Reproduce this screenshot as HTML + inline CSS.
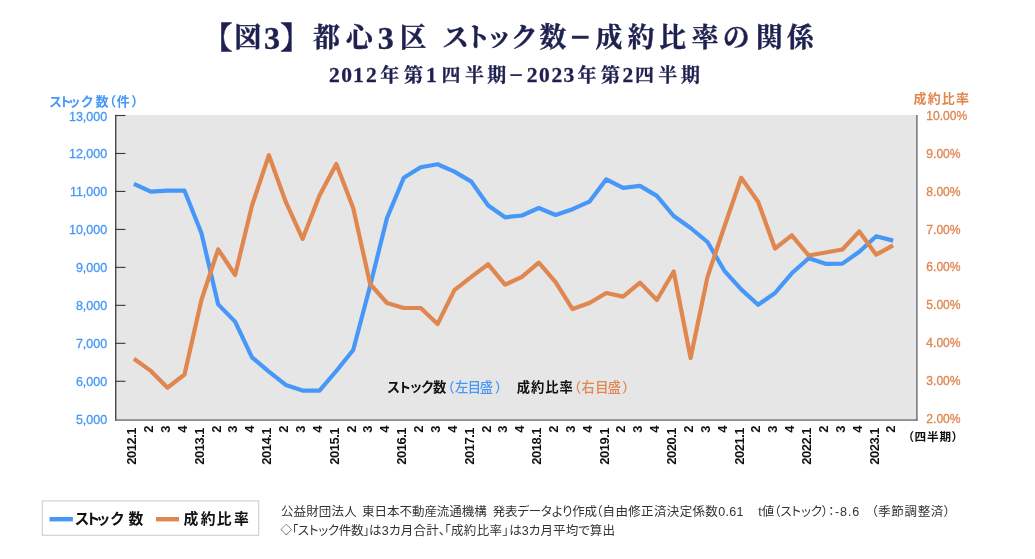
<!DOCTYPE html>
<html lang="ja"><head><meta charset="utf-8"><title>図3 都心3区 ストック数−成約比率の関係</title>
<style>
html,body{margin:0;padding:0;background:#fff;}
body{width:1035px;height:559px;overflow:hidden;}
svg{display:block;}
.serif{font-family:"Liberation Serif","Noto Serif CJK SC",serif;font-weight:bold;fill:#1e2150;}
.sans{font-family:"Liberation Sans","Noto Sans CJK JP",sans-serif;}
.gb{font-family:"Liberation Sans","Noto Sans CJK JP",sans-serif;font-weight:bold;}
.palt{font-feature-settings:"palt";}
.note{font-feature-settings:"palt";font-family:"Liberation Sans","Noto Sans CJK JP",sans-serif;font-weight:400;fill:#333;font-size:12.5px;}
</style></head><body>
<svg width="1035" height="559" viewBox="0 0 1035 559">
<rect width="1035" height="559" fill="#fff"/>
<text class="serif" font-size="26.8" stroke="#1e2150" stroke-width="0.4" x="202.6 234.4 264.1 280.3 294.3 313.3 346.0 377.7 399.6 413.6 442.3 464.3 485.7 511.0 539.5 570.3 595.5 627.8 659.2 691.8 722.8 755.9 787.0" y="47.6 47.3 48.6 47.6 47.3 47.3 47.3 48.6 47.3 47.3 47.3 47.3 47.3 47.3 47.3 49.2 47.3 47.3 47.3 47.3 47.3 47.3 47.3"><tspan font-size="30">【</tspan>図<tspan font-size="32">3</tspan><tspan font-size="30">】</tspan> 都心<tspan font-size="32">3</tspan>区 ストック数<tspan font-size="35">−</tspan>成約比率の関係</text>
<text class="serif" font-size="19" stroke="#1e2150" stroke-width="0.3" x="329.1 341.2 353.0 365.9 380.2 404.0 426.0 441.4 464.9 487.2 509.5 526.8 538.9 551.5 563.6 577.5 601.1 622.5 635.0 658.2 681.0" y="82.1 82.1 82.1 82.1 81.8 81.8 82.1 81.8 81.8 81.8 83.3 82.1 82.1 82.1 82.1 81.8 81.8 82.1 81.8 81.8 81.8"><tspan font-size="21.5">2012</tspan>年第<tspan font-size="21.5">1</tspan>四半期<tspan font-size="24">−</tspan><tspan font-size="21.5">2023</tspan>年第<tspan font-size="21.5">2</tspan>四半期</text>
<rect x="116" y="115" width="801" height="304.5" fill="#e6e6e6"/>
<rect x="115" y="115" width="1.4" height="305.7" fill="#484848"/>
<rect x="916.3" y="115" width="1.25" height="305.7" fill="#5c5c5c"/>
<rect x="115" y="419.4" width="802.5" height="1.3" fill="#606060"/>
<rect x="115" y="114.95" width="10.5" height="1.1" fill="#3a3a3a"/>
<text class="sans" x="107.2" y="120.50" font-size="12.5" text-anchor="end" fill="#4697f8" stroke="#4697f8" stroke-width="0.3">13,000</text>
<text class="sans" x="926.3" y="120.00" font-size="12.1" fill="#e0864f" stroke="#e0864f" stroke-width="0.3">10.00%</text>
<rect x="115" y="152.92" width="10.5" height="1.1" fill="#3a3a3a"/>
<text class="sans" x="107.2" y="158.47" font-size="12.5" text-anchor="end" fill="#4697f8" stroke="#4697f8" stroke-width="0.3">12,000</text>
<text class="sans" x="926.3" y="157.86" font-size="12.1" fill="#e0864f" stroke="#e0864f" stroke-width="0.3">9.00%</text>
<rect x="115" y="190.89" width="10.5" height="1.1" fill="#3a3a3a"/>
<text class="sans" x="107.2" y="196.44" font-size="12.5" text-anchor="end" fill="#4697f8" stroke="#4697f8" stroke-width="0.3">11,000</text>
<text class="sans" x="926.3" y="195.72" font-size="12.1" fill="#e0864f" stroke="#e0864f" stroke-width="0.3">8.00%</text>
<rect x="115" y="228.86" width="10.5" height="1.1" fill="#3a3a3a"/>
<text class="sans" x="107.2" y="234.41" font-size="12.5" text-anchor="end" fill="#4697f8" stroke="#4697f8" stroke-width="0.3">10,000</text>
<text class="sans" x="926.3" y="233.58" font-size="12.1" fill="#e0864f" stroke="#e0864f" stroke-width="0.3">7.00%</text>
<rect x="115" y="266.83" width="10.5" height="1.1" fill="#3a3a3a"/>
<text class="sans" x="107.2" y="272.38" font-size="12.5" text-anchor="end" fill="#4697f8" stroke="#4697f8" stroke-width="0.3">9,000</text>
<text class="sans" x="926.3" y="271.44" font-size="12.1" fill="#e0864f" stroke="#e0864f" stroke-width="0.3">6.00%</text>
<rect x="115" y="304.80" width="10.5" height="1.1" fill="#3a3a3a"/>
<text class="sans" x="107.2" y="310.35" font-size="12.5" text-anchor="end" fill="#4697f8" stroke="#4697f8" stroke-width="0.3">8,000</text>
<text class="sans" x="926.3" y="309.30" font-size="12.1" fill="#e0864f" stroke="#e0864f" stroke-width="0.3">5.00%</text>
<rect x="115" y="342.77" width="10.5" height="1.1" fill="#3a3a3a"/>
<text class="sans" x="107.2" y="348.32" font-size="12.5" text-anchor="end" fill="#4697f8" stroke="#4697f8" stroke-width="0.3">7,000</text>
<text class="sans" x="926.3" y="347.16" font-size="12.1" fill="#e0864f" stroke="#e0864f" stroke-width="0.3">4.00%</text>
<rect x="115" y="380.74" width="10.5" height="1.1" fill="#3a3a3a"/>
<text class="sans" x="107.2" y="386.29" font-size="12.5" text-anchor="end" fill="#4697f8" stroke="#4697f8" stroke-width="0.3">6,000</text>
<text class="sans" x="926.3" y="385.02" font-size="12.1" fill="#e0864f" stroke="#e0864f" stroke-width="0.3">3.00%</text>
<text class="sans" x="107.2" y="424.26" font-size="12.5" text-anchor="end" fill="#4697f8" stroke="#4697f8" stroke-width="0.3">5,000</text>
<text class="sans" x="926.3" y="422.88" font-size="12.1" fill="#e0864f" stroke="#e0864f" stroke-width="0.3">2.00%</text>
<text class="gb palt" x="49.6" dx="0 -1.5 -2.3 1.1 2.7 0.7 1.1 2.1" y="105.8" font-size="13" fill="#4697f8">ストック数（件）</text>
<text class="gb" x="913.6" y="103.2" font-size="13" letter-spacing="1.1" fill="#e0864f">成約比率</text>
<polyline fill="none" stroke="#4697f8" stroke-width="4.2" stroke-linejoin="round" points="133.9,183.9 150.8,191.7 167.6,190.7 184.5,190.7 201.4,233.0 218.2,304.4 235.1,321.6 252.0,357.3 268.9,371.6 285.7,384.9 302.6,390.6 319.5,390.6 336.3,371.0 353.2,350.0 370.1,286.0 387.0,218.0 403.8,177.8 420.7,167.3 437.6,164.3 454.4,171.6 471.3,181.6 488.2,205.5 505.0,217.3 521.9,215.5 538.8,208.0 555.6,215.0 572.5,209.2 589.4,201.7 606.3,179.3 623.1,187.9 640.0,185.9 656.9,195.9 673.7,216.0 690.6,228.0 707.5,242.0 724.4,270.8 741.2,289.4 758.1,304.8 775.0,293.0 791.8,273.3 808.7,258.3 825.6,263.8 842.4,263.6 859.3,251.8 876.2,236.2 893.1,240.6"/>
<polyline fill="none" stroke="#e0864f" stroke-width="4.2" stroke-linejoin="round" points="133.9,358.8 150.8,370.9 167.6,387.7 184.5,374.5 201.4,300.0 218.2,249.3 235.1,275.0 252.0,205.5 268.9,155.2 285.7,201.7 302.6,238.9 319.5,195.4 336.3,164.0 353.2,208.0 370.1,284.0 387.0,303.0 403.8,308.0 420.7,308.0 437.6,324.0 454.4,290.1 471.3,276.9 488.2,264.3 505.0,284.7 521.9,276.9 538.8,262.6 555.6,282.2 572.5,309.1 589.4,303.0 606.3,293.0 623.1,296.6 640.0,282.6 656.9,300.0 673.7,271.5 690.6,358.0 707.5,276.9 724.4,226.5 741.2,177.8 758.1,201.7 775.0,248.5 791.8,235.3 808.7,255.5 825.6,252.5 842.4,249.5 859.3,231.4 876.2,254.7 893.1,245.4"/>
<text class="palt gb" x="387.3" y="392" font-size="13.3" letter-spacing="-0.3" fill="#111">ストック数</text>
<text class="palt sans" x="445.6" dx="1.9 0 -1.4 -2.0 1.5" y="392" font-size="13.3" letter-spacing="0.8" font-weight="500" fill="#4697f8">（左目盛）</text>
<text class="palt gb" x="516.8" y="392" font-size="13.3" letter-spacing="0.9" fill="#111">成約比率</text>
<text class="palt sans" x="572.4" dx="1.4 -0.2 -0.7 -2.1 0.6" y="392" font-size="13.3" letter-spacing="1.2" font-weight="500" fill="#e0864f">（右目盛）</text>
<text class="gb" font-size="13" fill="#111" letter-spacing="-0.5" text-anchor="end" transform="translate(136.2,427.9) rotate(-90)">2012.1</text>
<text class="gb" font-size="13" fill="#111" text-anchor="end" transform="translate(153.1,425.6) rotate(-90)">2</text>
<text class="gb" font-size="13" fill="#111" text-anchor="end" transform="translate(169.9,425.6) rotate(-90)">3</text>
<text class="gb" font-size="13" fill="#111" text-anchor="end" transform="translate(186.8,425.6) rotate(-90)">4</text>
<text class="gb" font-size="13" fill="#111" letter-spacing="-0.5" text-anchor="end" transform="translate(203.7,427.9) rotate(-90)">2013.1</text>
<text class="gb" font-size="13" fill="#111" text-anchor="end" transform="translate(220.6,425.6) rotate(-90)">2</text>
<text class="gb" font-size="13" fill="#111" text-anchor="end" transform="translate(237.4,425.6) rotate(-90)">3</text>
<text class="gb" font-size="13" fill="#111" text-anchor="end" transform="translate(254.3,425.6) rotate(-90)">4</text>
<text class="gb" font-size="13" fill="#111" letter-spacing="-0.5" text-anchor="end" transform="translate(271.2,427.9) rotate(-90)">2014.1</text>
<text class="gb" font-size="13" fill="#111" text-anchor="end" transform="translate(288.0,425.6) rotate(-90)">2</text>
<text class="gb" font-size="13" fill="#111" text-anchor="end" transform="translate(304.9,425.6) rotate(-90)">3</text>
<text class="gb" font-size="13" fill="#111" text-anchor="end" transform="translate(321.8,425.6) rotate(-90)">4</text>
<text class="gb" font-size="13" fill="#111" letter-spacing="-0.5" text-anchor="end" transform="translate(338.6,427.9) rotate(-90)">2015.1</text>
<text class="gb" font-size="13" fill="#111" text-anchor="end" transform="translate(355.5,425.6) rotate(-90)">2</text>
<text class="gb" font-size="13" fill="#111" text-anchor="end" transform="translate(372.4,425.6) rotate(-90)">3</text>
<text class="gb" font-size="13" fill="#111" text-anchor="end" transform="translate(389.3,425.6) rotate(-90)">4</text>
<text class="gb" font-size="13" fill="#111" letter-spacing="-0.5" text-anchor="end" transform="translate(406.1,427.9) rotate(-90)">2016.1</text>
<text class="gb" font-size="13" fill="#111" text-anchor="end" transform="translate(423.0,425.6) rotate(-90)">2</text>
<text class="gb" font-size="13" fill="#111" text-anchor="end" transform="translate(439.9,425.6) rotate(-90)">3</text>
<text class="gb" font-size="13" fill="#111" text-anchor="end" transform="translate(456.7,425.6) rotate(-90)">4</text>
<text class="gb" font-size="13" fill="#111" letter-spacing="-0.5" text-anchor="end" transform="translate(473.6,427.9) rotate(-90)">2017.1</text>
<text class="gb" font-size="13" fill="#111" text-anchor="end" transform="translate(490.5,425.6) rotate(-90)">2</text>
<text class="gb" font-size="13" fill="#111" text-anchor="end" transform="translate(507.3,425.6) rotate(-90)">3</text>
<text class="gb" font-size="13" fill="#111" text-anchor="end" transform="translate(524.2,425.6) rotate(-90)">4</text>
<text class="gb" font-size="13" fill="#111" letter-spacing="-0.5" text-anchor="end" transform="translate(541.1,427.9) rotate(-90)">2018.1</text>
<text class="gb" font-size="13" fill="#111" text-anchor="end" transform="translate(557.9,425.6) rotate(-90)">2</text>
<text class="gb" font-size="13" fill="#111" text-anchor="end" transform="translate(574.8,425.6) rotate(-90)">3</text>
<text class="gb" font-size="13" fill="#111" text-anchor="end" transform="translate(591.7,425.6) rotate(-90)">4</text>
<text class="gb" font-size="13" fill="#111" letter-spacing="-0.5" text-anchor="end" transform="translate(608.6,427.9) rotate(-90)">2019.1</text>
<text class="gb" font-size="13" fill="#111" text-anchor="end" transform="translate(625.4,425.6) rotate(-90)">2</text>
<text class="gb" font-size="13" fill="#111" text-anchor="end" transform="translate(642.3,425.6) rotate(-90)">3</text>
<text class="gb" font-size="13" fill="#111" text-anchor="end" transform="translate(659.2,425.6) rotate(-90)">4</text>
<text class="gb" font-size="13" fill="#111" letter-spacing="-0.5" text-anchor="end" transform="translate(676.0,427.9) rotate(-90)">2020.1</text>
<text class="gb" font-size="13" fill="#111" text-anchor="end" transform="translate(692.9,425.6) rotate(-90)">2</text>
<text class="gb" font-size="13" fill="#111" text-anchor="end" transform="translate(709.8,425.6) rotate(-90)">3</text>
<text class="gb" font-size="13" fill="#111" text-anchor="end" transform="translate(726.6,425.6) rotate(-90)">4</text>
<text class="gb" font-size="13" fill="#111" letter-spacing="-0.5" text-anchor="end" transform="translate(743.5,427.9) rotate(-90)">2021.1</text>
<text class="gb" font-size="13" fill="#111" text-anchor="end" transform="translate(760.4,425.6) rotate(-90)">2</text>
<text class="gb" font-size="13" fill="#111" text-anchor="end" transform="translate(777.3,425.6) rotate(-90)">3</text>
<text class="gb" font-size="13" fill="#111" text-anchor="end" transform="translate(794.1,425.6) rotate(-90)">4</text>
<text class="gb" font-size="13" fill="#111" letter-spacing="-0.5" text-anchor="end" transform="translate(811.0,427.9) rotate(-90)">2022.1</text>
<text class="gb" font-size="13" fill="#111" text-anchor="end" transform="translate(827.9,425.6) rotate(-90)">2</text>
<text class="gb" font-size="13" fill="#111" text-anchor="end" transform="translate(844.7,425.6) rotate(-90)">3</text>
<text class="gb" font-size="13" fill="#111" text-anchor="end" transform="translate(861.6,425.6) rotate(-90)">4</text>
<text class="gb" font-size="13" fill="#111" letter-spacing="-0.5" text-anchor="end" transform="translate(878.5,427.9) rotate(-90)">2023.1</text>
<text class="gb" font-size="13" fill="#111" text-anchor="end" transform="translate(895.4,425.6) rotate(-90)">2</text>
<text class="gb palt" x="907.8" y="440.6" font-size="11.6" letter-spacing="0.9" fill="#111">（四半期）</text>
<rect x="42.4" y="500.9" width="216.3" height="34.4" fill="#fff" stroke="#d2d2d2" stroke-width="1.2"/>
<rect x="49.5" y="517" width="23.4" height="4.4" fill="#4697f8"/>
<rect x="156" y="517" width="23" height="4.4" fill="#e0864f"/>
<text class="gb palt" x="75.2" dx="0 -2 -2.5 0.8 4.8" y="523.6" font-size="14.8" fill="#111">ストック数</text>
<text class="gb" x="183.5" dx="0 1.1 0 1" y="523.6" font-size="14.8" fill="#111" letter-spacing="1.3">成約比率</text>
<text class="note" x="280.9" y="516" textLength="75.8" lengthAdjust="spacing">公益財団法人</text>
<text class="note" x="362.0" y="516" textLength="124.8" lengthAdjust="spacing">東日本不動産流通機構</text>
<text class="note" x="492.8" y="516" textLength="104.2" lengthAdjust="spacing">発表データより作成</text>
<text class="note" x="596.0" y="516" textLength="147.5" lengthAdjust="spacing">（自由修正済決定係数0.61</text>
<text class="note" x="758.2" y="516" textLength="76.3" lengthAdjust="spacing">t値（ストック）：</text>
<text class="note" x="835.0" y="516" textLength="24.2" lengthAdjust="spacing">-8.6</text>
<text class="note" x="871.2" y="516" textLength="79.1" lengthAdjust="spacing">（季節調整済）</text>
<text class="note" x="280.4" y="534.3" style="font-size:11.5px">◇</text>
<text class="note" x="292.0" y="535" textLength="77.5" lengthAdjust="spacing">「ストック件数」</text>
<text class="note" x="369.1" y="535" textLength="76.0" lengthAdjust="spacing">は3カ月合計、</text>
<text class="note" x="444.3" y="535" textLength="64.4" lengthAdjust="spacing">「成約比率」</text>
<text class="note" x="509.3" y="535" textLength="105.6" lengthAdjust="spacing">は3カ月平均で算出</text>
</svg></body></html>
